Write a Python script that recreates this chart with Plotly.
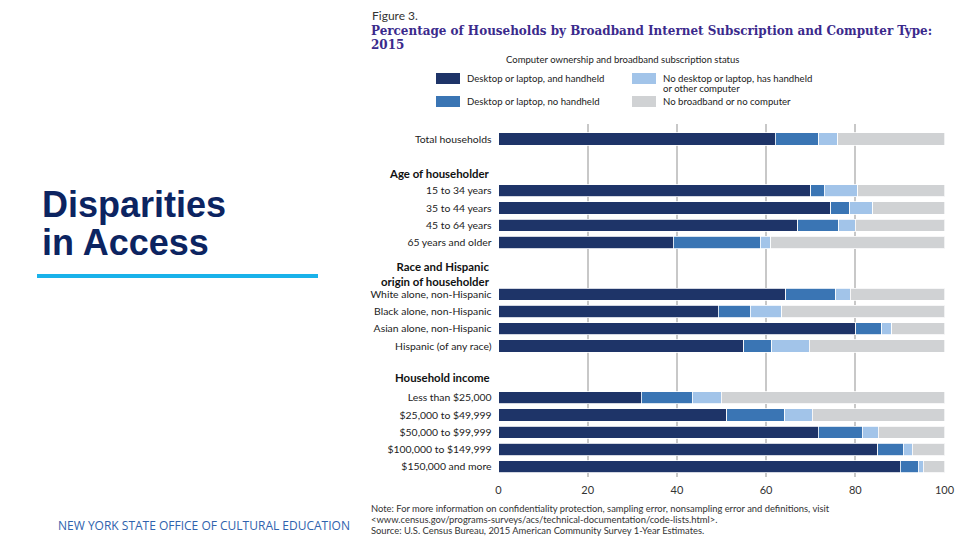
import plotly.graph_objects as go

# ---------------- data ----------------
rows = ["Total households",
        "15 to 34 years", "35 to 44 years", "45 to 64 years", "65 years and older",
        "White alone, non-Hispanic", "Black alone, non-Hispanic",
        "Asian alone, non-Hispanic", "Hispanic (of any race)",
        "Less than $25,000", "$25,000 to $49,999", "$50,000 to $99,999",
        "$100,000 to $149,999", "$150,000 and more"]

desktop_and_handheld = [62.1, 70.0, 74.5, 67.1, 39.2, 64.4, 49.3, 80.1, 55.0,
                        32.0, 51.2, 71.7, 85.0, 90.1]
desktop_no_handheld = [9.7, 3.0, 4.2, 9.2, 19.5, 11.2, 7.2, 5.8, 6.3,
                       11.4, 13.0, 9.9, 5.7, 4.0]
handheld_only = [4.3, 7.6, 5.2, 3.7, 2.3, 3.3, 7.0, 2.3, 8.4,
                 6.5, 6.1, 3.6, 2.1, 1.1]
no_broadband = [23.9, 19.4, 16.1, 20.0, 39.0, 21.1, 36.5, 11.8, 30.3,
                50.1, 29.7, 14.8, 7.2, 4.8]

series_names = ["Desktop or laptop, and handheld",
                "Desktop or laptop, no handheld",
                "No desktop or laptop, has handheld<br>or other computer",
                "No broadband or no computer"]

group_headers = ["Age of householder",
                 "Race and Hispanic<br>origin of householder",
                 "Household income"]

# full category order including group header slots and spacers
category_order = ["Total households", " ", "  ",
                  "15 to 34 years", "35 to 44 years", "45 to 64 years", "65 years and older",
                  "   ", "    ",
                  "White alone, non-Hispanic", "Black alone, non-Hispanic",
                  "Asian alone, non-Hispanic", "Hispanic (of any race)",
                  "     ", "      ",
                  "Less than $25,000", "$25,000 to $49,999", "$50,000 to $99,999",
                  "$100,000 to $149,999", "$150,000 and more"]
header_slots = [2, 7.8, 13.85]

x_ticks = [0, 20, 40, 60, 80, 100]

colors = ["#1e3468", "#3a75b4", "#a2c4e9", "#d0d2d4"]

W, H = 960, 540


def px(x):
    return x / W


def py(y):
    return 1 - y / H


fig = go.Figure()
for name, vals, col in zip(series_names,
                           [desktop_and_handheld, desktop_no_handheld, handheld_only, no_broadband],
                           colors):
    fig.add_trace(go.Bar(
        y=rows, x=vals, name=name, orientation="h",
        marker=dict(color=col, line=dict(color="white", width=0.8)),
        width=0.71, showlegend=False,
    ))

FONT = "Lato"

fig.update_layout(
    width=W, height=H, autosize=False, barmode="stack", showlegend=False,
    margin=dict(l=0, r=0, t=0, b=0, autoexpand=False),
    paper_bgcolor="white", plot_bgcolor="white",
    font=dict(family=FONT, color="#222222"),
    xaxis=dict(domain=[px(498.5), px(944.5)], range=[0, 100], automargin=False,
               tickvals=x_ticks, ticktext=[str(v) for v in x_ticks],
               showgrid=True, gridcolor="#c8c8c8", gridwidth=1.5,
               zeroline=False, showline=False, ticks="",
               tickfont=dict(size=11, color="#333333", family=FONT),
               ticklabelstandoff=5),
    yaxis=dict(domain=[py(477), py(124)], type="category", automargin=False,
               categoryorder="array", categoryarray=category_order,
               range=[19.6, -0.87], ticks="", showgrid=False,
               tickfont=dict(size=10.4, color="#222222", family=FONT),
               ticklabelstandoff=6),
)

ann = []
for txt, slot in zip(group_headers, header_slots):
    ann.append(dict(x=px(491.5), xref="paper", y=slot, yref="y", xanchor="right",
                    yanchor="middle", align="right", text="<b>" + txt + "</b>",
                    font=dict(size=11.4, color="#111111", family=FONT)))

P = []
# Figure title
P.append(dict(x=px(370), y=py(15), text="Figure 3.", xanchor="left", yanchor="middle",
              font=dict(size=12, color="#333333", family=FONT)))
P.append(dict(x=px(369), y=py(30), xanchor="left", yanchor="middle",
              text="<b>Percentage of Households by Broadband Internet Subscription and Computer Type:</b>",
              font=dict(size=13.3, color="#3b2a8c", family="DejaVu Serif Condensed")))
P.append(dict(x=px(369), y=py(44), xanchor="left", yanchor="middle", text="<b>2015</b>",
              font=dict(size=13.3, color="#3b2a8c", family="DejaVu Serif Condensed")))
# legend title
P.append(dict(x=px(622), y=py(59), xanchor="center", yanchor="middle",
              text="Computer ownership and broadband subscription status",
              font=dict(size=9.5, color="#222222", family=FONT)))
# legend items (manual)
leg_pos = [(436, 78.5), (436, 101.5), (632, 78.5), (632, 101.5)]
shapes = []
for (lx, ly), name, col in zip(leg_pos, series_names, colors):
    shapes.append(dict(type="rect", xref="paper", yref="paper",
                       x0=px(lx), x1=px(lx + 24), y0=py(ly + 5.5), y1=py(ly - 5.5),
                       fillcolor=col, line=dict(width=0)))
    for j, line in enumerate(name.split("<br>")):
        P.append(dict(x=px(lx + 29), y=py(ly + 10.5 * j), xanchor="left", yanchor="middle",
                      text=line, font=dict(size=9.6, color="#222222", family=FONT)))
# notes
notes = ["Note: For more information on confidentiality protection, sampling error, nonsampling error and definitions, visit",
         "&lt;www.census.gov/programs-surveys/acs/technical-documentation/code-lists.html&gt;.",
         "Source: U.S. Census Bureau, 2015 American Community Survey 1-Year Estimates."]
for i, t in enumerate(notes):
    P.append(dict(x=px(369), y=py(509 + 10.5 * i), xanchor="left", yanchor="middle",
                  text=t, font=dict(size=9.4, color="#333333", family=FONT)))
# slide title
P.append(dict(x=px(40), y=py(204), xanchor="left", yanchor="middle", text="<b>Disparities</b>",
              font=dict(size=36, color="#0c2461", family="Liberation Sans")))
P.append(dict(x=px(40), y=py(242), xanchor="left", yanchor="middle", text="<b>in Access</b>",
              font=dict(size=36, color="#0c2461", family="Liberation Sans")))
shapes.append(dict(type="rect", xref="paper", yref="paper",
                   x0=px(37), x1=px(318), y0=py(278), y1=py(274),
                   fillcolor="#19b2ea", line=dict(width=0)))
P.append(dict(x=px(56), y=py(525), xanchor="left", yanchor="middle",
              text="NEW YORK STATE OFFICE OF CULTURAL EDUCATION",
              font=dict(size=12, color="#2f62ad", family="Open Sans")))

for a in P:
    a.update(xref="paper", yref="paper")
ann += P
for a in ann:
    a.update(showarrow=False)
fig.update_layout(annotations=ann, shapes=shapes)

fig.write_html("out.html",
               config={"responsive": False, "displayModeBar": False},
               post_script="document.body.style.margin='0';document.body.style.overflow='hidden';")
